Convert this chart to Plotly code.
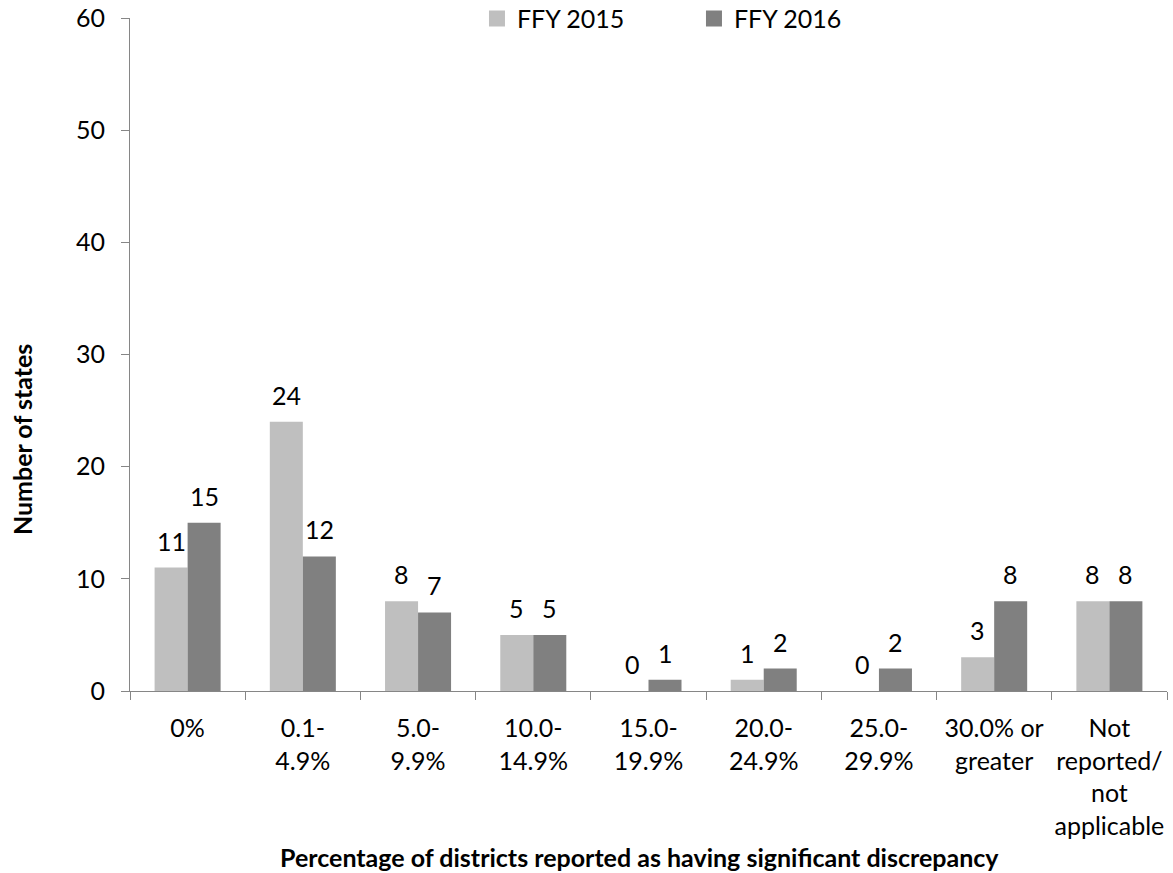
import plotly.graph_objects as go

categories = ["0%", "0.1-<br>4.9%", "5.0-<br>9.9%", "10.0-<br>14.9%", "15.0-<br>19.9%",
              "20.0-<br>24.9%", "25.0-<br>29.9%", "30.0% or<br>greater",
              "Not<br>reported/<br>not<br>applicable"]
ffy2015 = [11, 24, 8, 5, 0, 1, 0, 3, 8]
ffy2016 = [15, 12, 7, 5, 1, 2, 2, 8, 8]
series_names = ["FFY 2015", "FFY 2016"]
y_ticks = [0, 10, 20, 30, 40, 50, 60]

FONT = "Lato"
FS = 25
AXIS_GRAY = "#868686"
COLORS = ["#BFBFBF", "#808080"]
BAR_HALF = 16.5  # half of one bar's pixel width, for centring value labels

fig = go.Figure()
for name, vals, col in zip(series_names, [ffy2015, ffy2016], COLORS):
    fig.add_trace(go.Bar(
        name=name, x=categories, y=vals,
        marker=dict(color=col, line=dict(width=0)),
        showlegend=False, hoverinfo="x+y",
    ))
    # legend swatch
    fig.add_trace(go.Scatter(
        name=name, x=[None], y=[None], mode="markers",
        marker=dict(symbol="square", size=16, color=col),
        showlegend=True,
    ))

# value labels above each bar
for vals, shift in [(ffy2015, -BAR_HALF), (ffy2016, BAR_HALF)]:
    for cat, v in zip(categories, vals):
        fig.add_annotation(
            x=cat, y=v, xref="x", yref="y", text=str(v), showarrow=False,
            xshift=shift, yshift=27, yanchor="middle",
            font=dict(family=FONT, size=FS, color="#000000"),
        )

# axis titles
fig.add_annotation(
    x=0.4915, y=-0.2467, xref="paper", yref="paper",
    text="<b>Percentage of districts reported as having significant discrepancy</b>",
    showarrow=False, xanchor="center", yanchor="middle",
    font=dict(family=FONT, size=FS, color="#000000"),
)
fig.add_annotation(
    x=-0.104, y=0.373, xref="paper", yref="paper",
    text="<b>Number of states</b>", textangle=-90,
    showarrow=False, xanchor="center", yanchor="middle",
    font=dict(family=FONT, size=FS, color="#000000"),
)

fig.update_layout(
    width=1173, height=873,
    margin=dict(l=130, r=6, t=18, b=182, autoexpand=False),
    paper_bgcolor="white", plot_bgcolor="white",
    barmode="group", bargap=0.427, bargroupgap=0,
    font=dict(family=FONT, size=FS, color="#000000"),
    showlegend=True,
    legend=dict(
        orientation="h", x=0.3346, y=0.999, xanchor="left", yanchor="middle",
        font=dict(family=FONT, size=FS), bgcolor="rgba(0,0,0,0)",
        entrywidth=172, entrywidthmode="pixels", itemsizing="trace",
    ),
)

fig.update_xaxes(
    showline=True, linecolor=AXIS_GRAY, linewidth=1,
    ticks="outside", tickson="boundaries", ticklen=8, tickcolor=AXIS_GRAY,
    showgrid=False, zeroline=False, ticklabelstandoff=15, tickangle=0,
    tickfont=dict(family=FONT, size=FS),
)
fig.update_yaxes(
    range=[0, 60], tickvals=y_ticks,
    showline=True, linecolor=AXIS_GRAY, linewidth=1,
    ticks="outside", ticklen=8, tickcolor=AXIS_GRAY,
    showgrid=False, zeroline=False, ticklabelstandoff=11,
    tickfont=dict(family=FONT, size=FS),
)

fig.write_html("out.html")
